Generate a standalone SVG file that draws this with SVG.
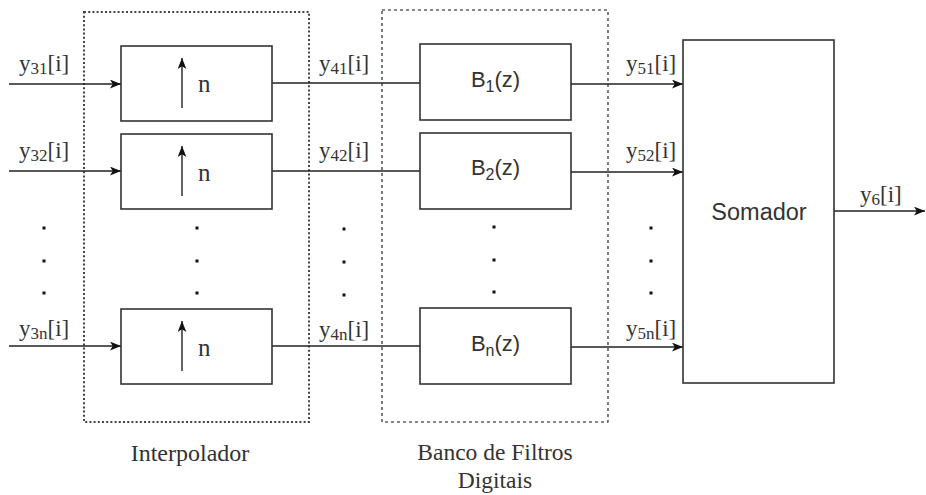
<svg xmlns="http://www.w3.org/2000/svg" width="926" height="495" viewBox="0 0 926 495">
  <style>
    .box { fill: #ffffff; stroke: #333333; stroke-width: 1.6; }
    .grp-dot { fill: none; stroke: #444444; stroke-width: 2; stroke-dasharray: 2 2.2; }
    .grp-dash { fill: none; stroke: #111111; stroke-width: 1.1; stroke-dasharray: 3 3; }
    .wire { fill: none; stroke: #222222; stroke-width: 1.4; }
    .serif { font-family: "Liberation Serif", "Times New Roman", serif; fill: #333333; }
    .sans { font-family: "Liberation Sans", Arial, sans-serif; fill: #333333; }
    .lbl { font-size: 23px; }
    .sub { font-size: 17px; }
    .dot { fill: #111111; }
  </style>
  <defs>
    <marker id="arr" viewBox="0 0 10 8" refX="10" refY="4" markerWidth="11" markerHeight="9" orient="auto" markerUnits="userSpaceOnUse">
      <path d="M0,0 L10,4 L0,8 L2.5,4 z" fill="#111111"/>
    </marker>
  </defs>

  <rect width="926" height="495" fill="#ffffff"/>

  <!-- Grouping frames -->
  <g id="interpolador">
    <rect class="grp-dot" x="84" y="12" width="225" height="410"/>
    <text class="serif" x="190" y="461" font-size="24" text-anchor="middle">Interpolador</text>
  </g>
  <g id="banco-filtros">
    <rect class="grp-dash" x="382" y="10" width="226" height="412"/>
    <text class="serif" font-size="23.5" text-anchor="middle"><tspan x="495" y="460">Banco de Filtros</tspan><tspan x="495" y="488">Digitais</tspan></text>
  </g>

  <!-- Connectors -->
  <g id="connectors">
    <path class="wire" d="M9,84 H121" marker-end="url(#arr)"/>
    <path class="wire" d="M9,171 H121" marker-end="url(#arr)"/>
    <path class="wire" d="M9,346 H121" marker-end="url(#arr)"/>

    <path class="wire" d="M272,83 H420"/>
    <path class="wire" d="M272,171 H420"/>
    <path class="wire" d="M272,346 H420"/>

    <path class="wire" d="M571,84 H683" marker-end="url(#arr)"/>
    <path class="wire" d="M571,172 H683" marker-end="url(#arr)"/>
    <path class="wire" d="M571,347 H683" marker-end="url(#arr)"/>

    <path class="wire" d="M834,211 H925" marker-end="url(#arr)"/>
  </g>

  <!-- Interpolator blocks -->
  <g id="interp-1">
    <rect class="box" x="121" y="46" width="151" height="75"/>
    <path class="wire" d="M182,108 V58" marker-end="url(#arr)"/>
    <text class="serif" x="198" y="92" font-size="25">n</text>
  </g>
  <g id="interp-2">
    <rect class="box" x="121" y="134" width="151" height="75"/>
    <path class="wire" d="M182,196 V146" marker-end="url(#arr)"/>
    <text class="serif" x="198" y="181" font-size="25">n</text>
  </g>
  <g id="interp-n">
    <rect class="box" x="121" y="309" width="151" height="75"/>
    <path class="wire" d="M182,371 V321" marker-end="url(#arr)"/>
    <text class="serif" x="198" y="356" font-size="25">n</text>
  </g>

  <!-- Filter blocks -->
  <g id="filtro-1">
    <rect class="box" x="420" y="44" width="151" height="76"/>
    <text class="sans" x="495.5" y="87" font-size="22" text-anchor="middle">B<tspan font-size="16" dy="5">1</tspan><tspan dy="-5">(z)</tspan></text>
  </g>
  <g id="filtro-2">
    <rect class="box" x="420" y="133" width="151" height="76"/>
    <text class="sans" x="495.5" y="175" font-size="22" text-anchor="middle">B<tspan font-size="16" dy="5">2</tspan><tspan dy="-5">(z)</tspan></text>
  </g>
  <g id="filtro-n">
    <rect class="box" x="420" y="308" width="151" height="76"/>
    <text class="sans" x="495.5" y="351" font-size="22" text-anchor="middle">B<tspan font-size="16" dy="5">n</tspan><tspan dy="-5">(z)</tspan></text>
  </g>

  <!-- Summer -->
  <g id="somador">
    <rect class="box" x="683" y="40" width="151" height="343"/>
    <text class="sans" x="759" y="220" font-size="23.5" text-anchor="middle">Somador</text>
  </g>

  <!-- Signal labels -->
  <g id="labels">
    <text class="serif lbl" x="19" y="71">y<tspan class="sub" dy="3">31</tspan><tspan dy="-3">[i]</tspan></text>
    <text class="serif lbl" x="19" y="158">y<tspan class="sub" dy="3">32</tspan><tspan dy="-3">[i]</tspan></text>
    <text class="serif lbl" x="19" y="336">y<tspan class="sub" dy="3">3n</tspan><tspan dy="-3">[i]</tspan></text>

    <text class="serif lbl" x="319" y="71">y<tspan class="sub" dy="3">41</tspan><tspan dy="-3">[i]</tspan></text>
    <text class="serif lbl" x="319" y="158">y<tspan class="sub" dy="3">42</tspan><tspan dy="-3">[i]</tspan></text>
    <text class="serif lbl" x="319" y="337">y<tspan class="sub" dy="3">4n</tspan><tspan dy="-3">[i]</tspan></text>

    <text class="serif lbl" x="626" y="71">y<tspan class="sub" dy="3">51</tspan><tspan dy="-3">[i]</tspan></text>
    <text class="serif lbl" x="626" y="158">y<tspan class="sub" dy="3">52</tspan><tspan dy="-3">[i]</tspan></text>
    <text class="serif lbl" x="626" y="336">y<tspan class="sub" dy="3">5n</tspan><tspan dy="-3">[i]</tspan></text>

    <text class="serif lbl" x="860" y="202">y<tspan class="sub" dy="3">6</tspan><tspan dy="-3">[i]</tspan></text>
  </g>

  <!-- Ellipsis dots -->
  <g id="ellipses">
    <rect class="dot" x="42.5" y="226.5" width="3" height="3"/>
    <rect class="dot" x="42.5" y="259.5" width="3" height="3"/>
    <rect class="dot" x="42.5" y="291.5" width="3" height="3"/>

    <rect class="dot" x="195.5" y="226.5" width="3" height="3"/>
    <rect class="dot" x="195.5" y="259.5" width="3" height="3"/>
    <rect class="dot" x="195.5" y="291.5" width="3" height="3"/>

    <rect class="dot" x="342.5" y="227.5" width="3" height="3"/>
    <rect class="dot" x="342.5" y="260.5" width="3" height="3"/>
    <rect class="dot" x="342.5" y="293.5" width="3" height="3"/>

    <rect class="dot" x="492.5" y="225.5" width="3" height="3"/>
    <rect class="dot" x="492.5" y="258.5" width="3" height="3"/>
    <rect class="dot" x="492.5" y="290.5" width="3" height="3"/>

    <rect class="dot" x="649.5" y="226.5" width="3" height="3"/>
    <rect class="dot" x="649.5" y="259.5" width="3" height="3"/>
    <rect class="dot" x="649.5" y="291.5" width="3" height="3"/>
  </g>
</svg>
